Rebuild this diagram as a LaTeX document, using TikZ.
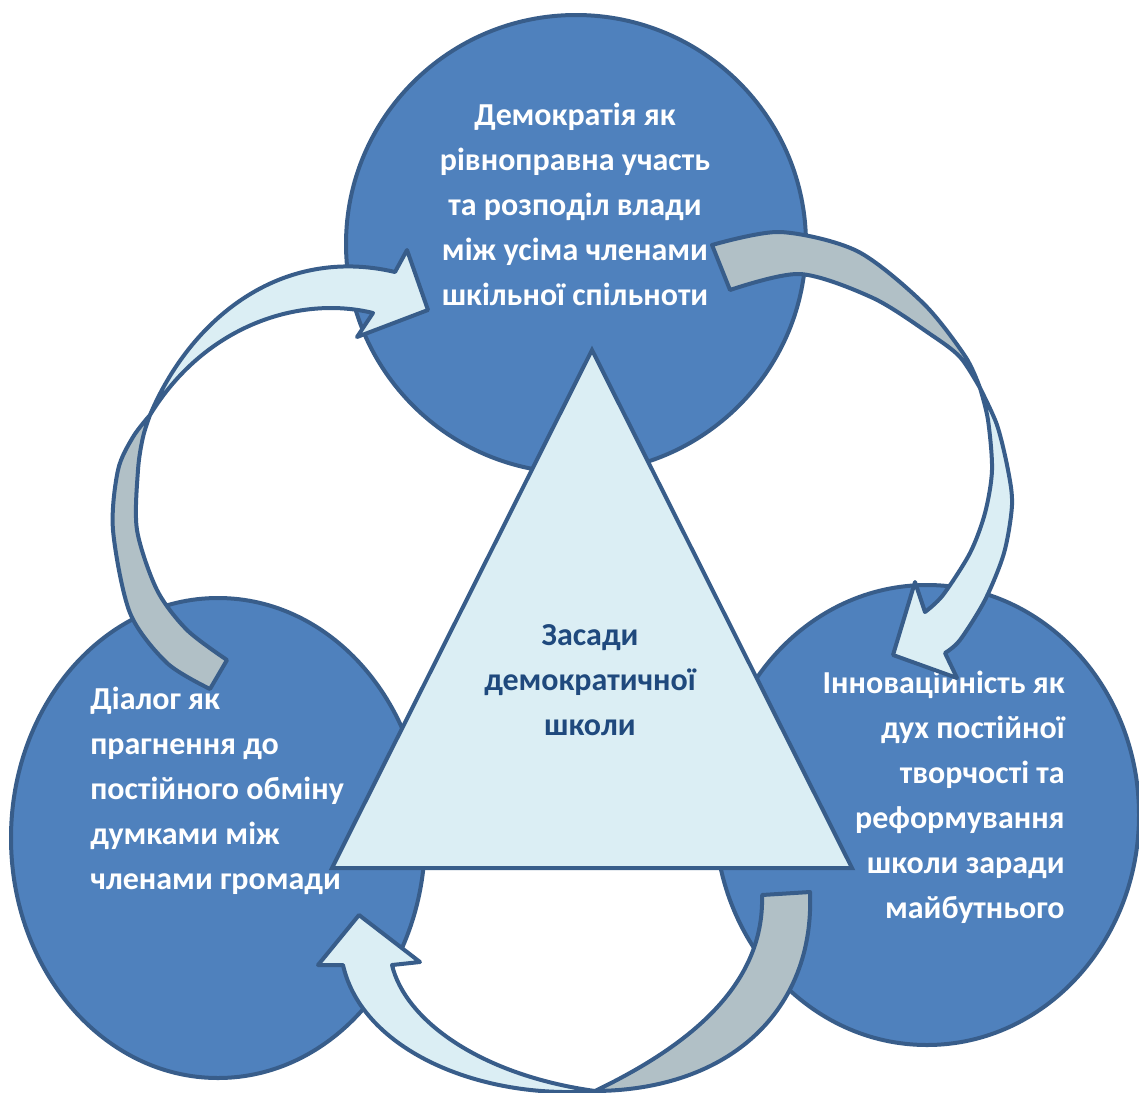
\documentclass[tikz,border=0pt]{standalone}
\usepackage{fontspec}
\setmainfont{Carlito}
\usetikzlibrary{shapes.geometric}
\definecolor{bubblefill}{HTML}{4F81BD}
\definecolor{rim}{HTML}{385D8A}
\definecolor{pale}{HTML}{DBEEF4}
\definecolor{slate}{HTML}{B1C0C6}
\definecolor{ink}{HTML}{1F497D}
\tikzset{
    bubble/.style={ellipse, draw=rim, fill=bubblefill, line width=2pt, inner sep=0pt},
    ribbon/.style={draw=rim, line width=2pt, line join=round},
    blurb/.style={font=\fontsize{16}{22.5}\selectfont\bfseries, text=white, inner sep=0pt}
}
\begin{document}
\begin{tikzpicture}[x=0.5pt,y=-0.5pt]
        \useasboundingbox (0,0) rectangle (1139,1092);
        %% Circles
        \node[bubble, minimum width=230pt, minimum height=229pt] (demo) at (576,244) {};
        \node[bubble, minimum width=207pt, minimum height=240pt] (dial) at (218,838) {};
        \node[bubble, minimum width=212pt, minimum height=230pt] (innov) at (927,815) {};
        %% Triangle
        \draw[rim, fill=pale, line width=2pt] (592,350) -- (852,868) -- (332,868) -- cycle;
        \node[blurb, text=ink, align=center] (core) at (590,680) {Засади\\демократичної\\школи};
        %% Texts
        \node[blurb, align=center] (demotext) at (575,204)
            {Демократія як\\рівноправна участь\\та розподіл влади\\між усіма членами\\шкільної спільноти};
        \node[blurb, align=left, anchor=west] (dialtext) at (90,791)
            {Діалог як\\прагнення до\\постійного обміну\\думками між\\членами громади};
        \node[blurb, align=right, anchor=east] (innovtext) at (1065,797)
            {Інноваційність як\\дух постійної\\творчості та\\реформування\\школи заради\\майбутнього};
        %% Arrow: dial -> demo
        \draw[ribbon, fill=slate] plot[smooth] coordinates {(210,689) (167,663) (130,613) (113,530) (118,470) (133,437) (150,415)}
            -- plot[smooth] coordinates {(150,415) (143,437) (138,470) (137,530) (157,590) (187,630) (227,660)} -- cycle;
        \draw[ribbon, fill=pale] (150,415) .. controls (190,320) and (280,245) .. (395,272)
            -- (407,250) -- (428,310) -- (357,337) -- (373,313)
            .. controls (300,295) and (205,325) .. (150,415) -- cycle;
        %% Arrow: demo -> innov
        \draw[ribbon, fill=slate] plot[smooth] coordinates {(712,245) (780,232) (857,251) (923,303) (965,356) (980,388)}
            -- plot[smooth] coordinates {(980,388) (960,357) (930,334) (873,298) (800,274) (730,290)} -- cycle;
        \draw[ribbon, fill=pale] plot[smooth] coordinates {(980,388) (997,425) (1008,470) (1012,505) (1004,553) (985,600) (960,640) (945,653)}
            -- (957,678) -- (893,655) -- (915,582)
            -- plot[smooth] coordinates {(925,612) (943,595) (970,553) (985,513) (992,470) (988,420) (980,388)} -- cycle;
        %% Arrow: innov -> dial
        \draw[ribbon, fill=slate] (810,892) .. controls (815,1010) and (730,1090) .. (595,1091)
            .. controls (680,1050) and (765,990) .. (762,895) -- cycle;
        \draw[ribbon, fill=pale] (595,1091) .. controls (480,1100) and (362,1050) .. (343,965)
            -- (318,965) -- (359,915) -- (420,962) -- (392,965)
            .. controls (405,1020) and (480,1075) .. (595,1091) -- cycle;
    \end{tikzpicture}
\end{document}
